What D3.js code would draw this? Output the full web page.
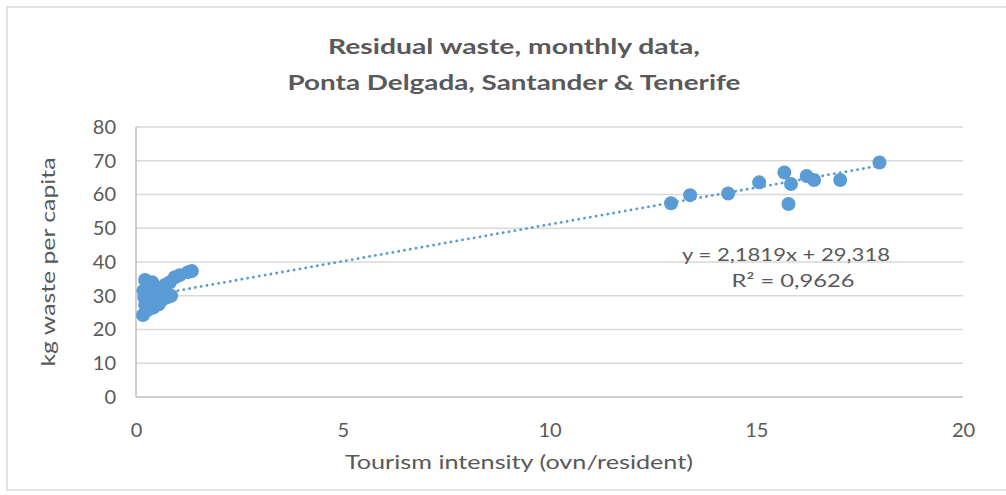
<!DOCTYPE html>
<html><head><meta charset="utf-8">
<script src="https://cdn.jsdelivr.net/npm/d3@7"></script>
<style>
body{margin:0;background:#fff;}
text{font-family:Lato,"Open Sans",sans-serif;fill:#595959;}
</style></head>
<body><svg id="c" width="1006" height="495"></svg>
<script>
const titleLines = ["Residual waste, monthly data,", "Ponta Delgada, Santander & Tenerife"];
const xTicks = [0, 5, 10, 15, 20];
const yTicks = [0, 10, 20, 30, 40, 50, 60, 70, 80];
const xLabel = "Tourism intensity (ovn/resident)";
const yLabel = "kg waste per capita";
// tourism intensity (x) and waste (y)
const intensity = [0.17,0.22,0.29,0.34,0.20,0.22,0.39,0.46,0.50,0.58,0.63,0.70,0.77,0.82,0.94,1.06,1.26,1.35,0.18,0.30,0.42,0.55,0.85,0.25,0.36,
  12.94,13.40,14.32,15.07,15.68,15.84,15.78,16.22,16.40,17.03,17.98];
const waste = [24.3,27.3,25.8,28.7,29.5,34.7,34.0,30.8,27.3,31.7,28.7,33.2,29.6,34.0,35.5,36.1,37.0,37.3,31.5,32.0,26.5,27.5,30.0,30.5,29.5,
  57.4,59.8,60.3,63.6,66.5,63.1,57.2,65.5,64.3,64.3,69.5];
const slope = 2.1819, intercept = 29.318;
const eqText = "y = 2,1819x + 29,318";
const r2Text = "R² = 0,9626";

const svg = d3.select("#c");
svg.append("rect").attr("x",7).attr("y",7).attr("width",1010).attr("height",483)
  .attr("fill","#fff").attr("stroke","#d9d9d9").attr("stroke-width",1.5);

const x = d3.scaleLinear().domain([0,20]).range([136,963]);
const y = d3.scaleLinear().domain([0,80]).range([397,127]);

svg.append("g").selectAll("line").data(yTicks).join("line")
  .attr("x1",x(0)).attr("x2",x(20)).attr("y1",d=>y(d)).attr("y2",d=>y(d))
  .attr("stroke",d=>d===0?"#bfbfbf":"#d9d9d9").attr("stroke-width",1.5);
svg.append("line").attr("x1",x(0)).attr("x2",x(0)).attr("y1",y(0)).attr("y2",y(80))
  .attr("stroke","#bfbfbf").attr("stroke-width",1.5);

const yAxis = svg.append("g").attr("transform",`translate(${x(0)},0)`)
  .call(d3.axisLeft(y).tickValues(yTicks).tickSize(0).tickPadding(20));
yAxis.select(".domain").remove();
yAxis.selectAll("text").style("font-size","20px").attr("fill","#595959");

const xAxis = svg.append("g").attr("transform",`translate(0,${y(0)})`)
  .call(d3.axisBottom(x).tickValues(xTicks).tickSize(0).tickPadding(26));
xAxis.select(".domain").remove();
xAxis.selectAll("text").style("font-size","20px").attr("fill","#595959");

svg.append("text").attr("x",519).attr("y",469).attr("text-anchor","middle")
  .attr("textLength",348).attr("lengthAdjust","spacingAndGlyphs")
  .style("font-size","20px").text(xLabel);
svg.append("text").attr("transform","translate(55,262) rotate(-90)").attr("text-anchor","middle")
  .attr("textLength",209).attr("lengthAdjust","spacingAndGlyphs")
  .style("font-size","20px").text(yLabel);

const titleW = [372, 453];
svg.append("g").selectAll("text").data(titleLines).join("text")
  .attr("x",514).attr("y",(d,i)=>54+i*36).attr("text-anchor","middle")
  .attr("textLength",(d,i)=>titleW[i]).attr("lengthAdjust","spacingAndGlyphs")
  .style("font-size","20px").style("font-weight","bold").text(d=>d);

const pts = intensity.map((v,i)=>({x:v,y:waste[i]}));
svg.append("g").selectAll("circle").data(pts).join("circle")
  .attr("cx",d=>x(d.x)).attr("cy",d=>y(d.y)).attr("r",7).attr("fill","#5b9bd5");

const x0 = d3.min(intensity), x1 = d3.max(intensity);
svg.append("line").attr("x1",x(x0)).attr("y1",y(slope*x0+intercept))
  .attr("x2",x(x1)).attr("y2",y(slope*x1+intercept))
  .attr("stroke","#5b9bd5").attr("stroke-width",2.8).attr("stroke-linecap","round")
  .attr("stroke-dasharray","0.1 5.8");

svg.append("text").attr("x",786).attr("y",261).attr("text-anchor","middle")
  .attr("textLength",208).attr("lengthAdjust","spacingAndGlyphs")
  .style("font-size","18px").text(eqText);
svg.append("text").attr("x",793).attr("y",287).attr("text-anchor","middle")
  .attr("textLength",123).attr("lengthAdjust","spacingAndGlyphs")
  .style("font-size","18px").text(r2Text);
</script></body></html>
